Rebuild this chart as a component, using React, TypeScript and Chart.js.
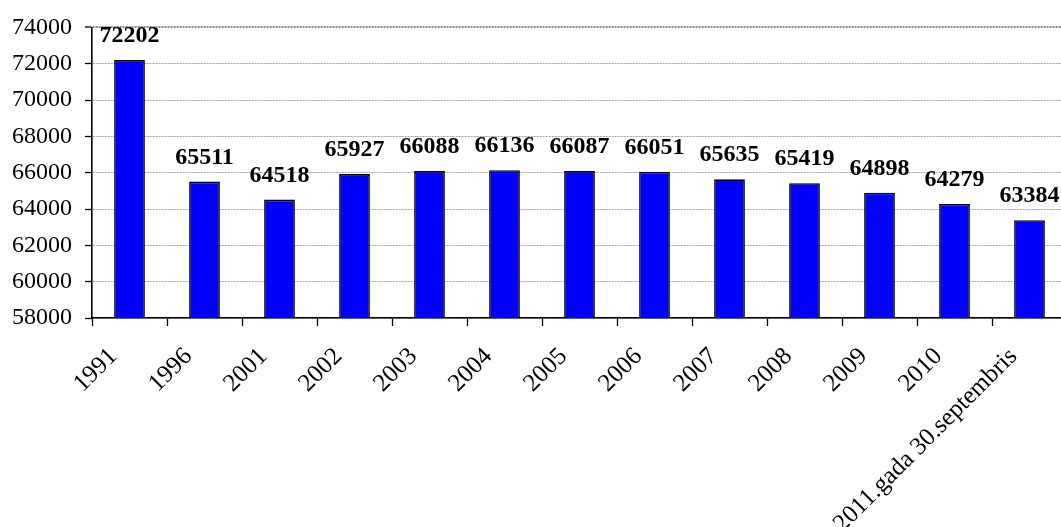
import React, { useEffect, useRef } from "react";
import { Chart, registerables } from "chart.js";

Chart.register(...registerables);

const categories: string[] = [
  "1991", "1996", "2001", "2002", "2003", "2004", "2005",
  "2006", "2007", "2008", "2009", "2010", "2011.gada 30.septembris",
];
const values: number[] = [
  72202, 65511, 64518, 65927, 66088, 66136, 66087,
  66051, 65635, 65419, 64898, 64279, 63384,
];
const yMin = 58000;
const yMax = 74000;
const yStep = 2000;

const FONT = '"Liberation Serif", "Times New Roman", serif';

const valueLabelPlugin = {
  id: "valueLabels",
  afterDatasetsDraw(chart: any) {
    const ctx = chart.ctx;
    const meta = chart.getDatasetMeta(0);
    ctx.save();
    ctx.font = `bold 24px ${FONT}`;
    ctx.fillStyle = "#000";
    ctx.textAlign = "center";
    ctx.textBaseline = "alphabetic";
    meta.data.forEach((bar: any, i: number) => {
      ctx.fillText(String(values[i]), bar.x, bar.y - 18);
    });
    ctx.restore();
  },
};

export default function App() {
  const ref = useRef<HTMLCanvasElement | null>(null);
  useEffect(() => {
    if (!ref.current) return;
    const chart = new Chart(ref.current, {
      type: "bar",
      data: {
        labels: categories,
        datasets: [
          {
            data: values,
            backgroundColor: "#0000FF",
            borderColor: "#000000",
            borderWidth: 1.6,
            barPercentage: 0.41,
            categoryPercentage: 1,
          },
        ],
      },
      options: {
        responsive: false,
        animation: false,
        layout: { padding: { top: 22, left: 0, right: 0, bottom: 0 } },
        plugins: {
          legend: { display: false },
          tooltip: { enabled: false },
        },
        scales: {
          x: {
            offset: true,
            grid: {
              offset: true,
              drawOnChartArea: false,
              tickColor: "#000",
              tickLength: 8,
              tickWidth: 1.3,
            },
            border: { color: "#000", width: 1.6 },
            ticks: {
              autoSkip: false,
              minRotation: 45,
              maxRotation: 45,
              padding: 16,
              labelOffset: -16,
              color: "#000",
              font: { family: FONT, size: 25 },
            },
            afterFit: (scale: any) => {
              scale.height = 209;
            },
          },
          y: {
            min: yMin,
            max: yMax,
            ticks: {
              stepSize: yStep,
              color: "#000",
              padding: 13,
              font: { family: FONT, size: 24 },
              callback: (v: any) => String(v),
            },
            grid: {
              color: (c: any) => (c.tick && c.tick.value === yMax ? "#888" : "#a0a0a0"),
              lineWidth: (c: any) => (c.tick && c.tick.value === yMax ? 2 : 1),
              tickColor: "#000",
              tickLength: 7,
              tickWidth: 1.3,
              tickBorderDash: [],
            },
            border: { color: "#000", width: 1.6, dash: [2, 1] },
            afterFit: (scale: any) => {
              scale.width = 92;
            },
          },
        },
      },
      plugins: [valueLabelPlugin],
    });
    return () => chart.destroy();
  }, []);
  return (
    <div
      style={{
        position: "absolute",
        left: 0,
        top: 0,
        width: 1061,
        height: 527,
        overflow: "hidden",
        background: "#fff",
      }}
    >
      <canvas ref={ref} width={1067} height={527} style={{ display: "block" }} />
    </div>
  );
}
